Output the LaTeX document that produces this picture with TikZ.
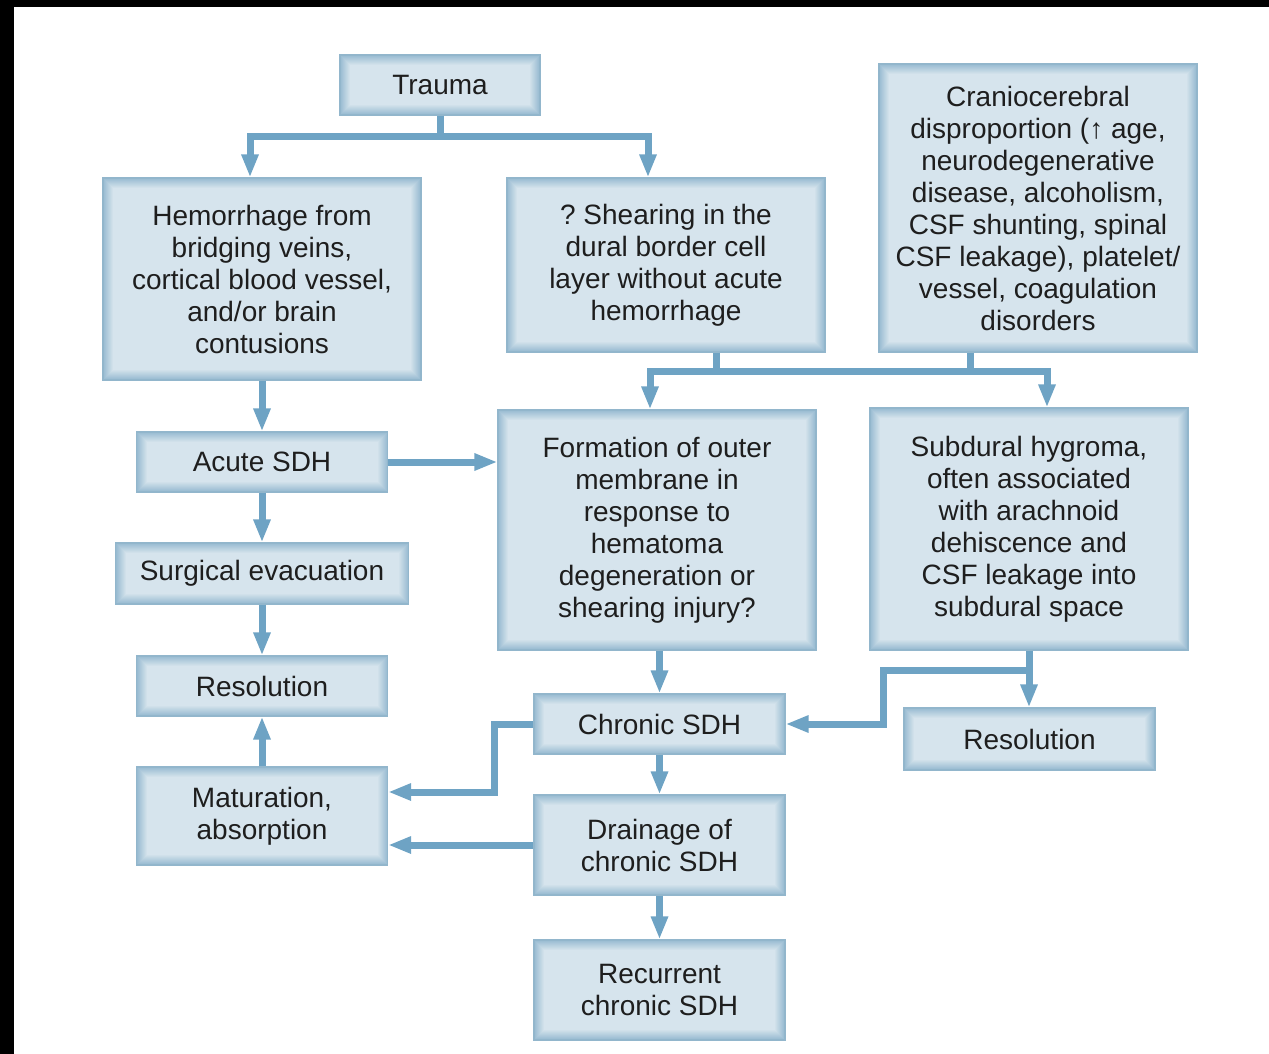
\documentclass[tikz,border=0pt]{standalone}
\usepackage{fontspec}
\setmainfont{Liberation Sans}
\usetikzlibrary{arrows.meta}

\definecolor{boxedge}{RGB}{152,187,209}
\definecolor{boxcore}{RGB}{214,228,237}
\definecolor{boxline}{RGB}{146,182,204}
\definecolor{boxtext}{RGB}{30,30,30}
\definecolor{linkblue}{RGB}{110,163,196}

\tikzset{
  flowbox/.style={draw=boxline, line width=0.6pt, fill=boxedge, inner sep=0pt,
    align=center, text=boxtext, font=\fontsize{14}{16}\selectfont,
    path picture={
      \foreach \k in {1,...,10}{
        \pgfmathsetmacro\mixp{\k*10}
        \fill[boxcore!\mixp!boxedge]
          ([shift={(\k*0.5pt,\k*0.5pt)}]path picture bounding box.south west) rectangle
          ([shift={(-\k*0.5pt,-\k*0.5pt)}]path picture bounding box.north east);
      }
    }},
  link/.style={draw=linkblue, line width=3.5pt, line join=miter},
  tip/.style={-{Triangle[length=11.5pt,width=8pt]}},
}

\begin{document}
\begin{tikzpicture}[x=0.5pt,y=0.5pt,yscale=-1]
\useasboundingbox (0,0) rectangle (1269,1054);

%Shape: black frame bands
\fill[black] (0,0) rectangle (1269,7);
\fill[black] (0,0) rectangle (14,1054);

% Text Node
\node[flowbox, minimum width=100pt, minimum height=30pt] (trauma) at (440,85) {Trauma};
% Text Node
\node[flowbox, minimum width=159pt, minimum height=101pt] (hemo) at (262,279)
  {Hemorrhage from\\bridging veins,\\cortical blood vessel,\\and/or brain\\contusions};
% Text Node
\node[flowbox, minimum width=159pt, minimum height=87pt] (shear) at (666,265)
  {?\ Shearing in the\\dural border cell\\layer without acute\\hemorrhage};
% Text Node
\node[flowbox, minimum width=159pt, minimum height=144pt] (cranio) at (1038,208)
  {Craniocerebral\\disproportion (↑ age,\\neurodegenerative\\disease, alcoholism,\\CSF shunting, spinal\\CSF leakage), platelet/\\vessel, coagulation\\disorders};
% Text Node
\node[flowbox, minimum width=125.5pt, minimum height=30pt] (acute) at (262,462) {Acute SDH};
% Text Node
\node[flowbox, minimum width=159pt, minimum height=120pt] (form) at (657,530)
  {Formation of outer\\membrane in\\response to\\hematoma\\degeneration or\\shearing injury?};
% Text Node
\node[flowbox, minimum width=159pt, minimum height=121pt] (hygro) at (1029,529)
  {Subdural hygroma,\\often associated\\with arachnoid\\dehiscence and\\CSF leakage into\\subdural space};
% Text Node
\node[flowbox, minimum width=146.5pt, minimum height=30.5pt] (surg) at (262,573.5) {Surgical evacuation};
% Text Node
\node[flowbox, minimum width=125.5pt, minimum height=30pt] (resol) at (262,686) {Resolution};
% Text Node
\node[flowbox, minimum width=125.5pt, minimum height=30pt] (chronic) at (659.5,724) {Chronic SDH};
% Text Node
\node[flowbox, minimum width=125.5pt, minimum height=31pt] (hresol) at (1029.5,739) {Resolution};
% Text Node
\node[flowbox, minimum width=125.5pt, minimum height=49pt] (matur) at (262,816) {Maturation,\\absorption};
% Text Node
\node[flowbox, minimum width=125.5pt, minimum height=50pt] (drain) at (659.5,845) {Drainage of\\chronic SDH};
% Text Node
\node[flowbox, minimum width=125.5pt, minimum height=50pt] (recur) at (659.5,990) {Recurrent\\chronic SDH};

%Connector: branch coordinates
\coordinate (tleft) at (250,137);
\coordinate (tright) at (648,137);
\coordinate (mleft) at (650,371);
\coordinate (mright) at (1047,371);
\coordinate (cbend) at (494,792);
\coordinate (hbend) at (883,670);

%Connector: trauma split
\draw[link] (trauma.south) -- (trauma.south |- tleft);
\draw[link,{Triangle[length=11.5pt,width=8pt]}-{Triangle[length=11.5pt,width=8pt]}]
  (tleft |- hemo.north) -- (tleft) -- (tright) -- (tright |- shear.north);
%Connector: shearing and craniocerebral join
\draw[link] ([xshift=25pt]shear.south) -- ([xshift=25pt]shear.south |- mleft);
\draw[link] ([xshift=-34pt]cranio.south) -- ([xshift=-34pt]cranio.south |- mleft);
\draw[link,{Triangle[length=11.5pt,width=8pt]}-{Triangle[length=11.5pt,width=8pt]}]
  (mleft |- form.north) -- (mleft) -- (mright) -- (mright |- hygro.north);
%Connector: left column
\draw[link,tip] (hemo) -- (acute);
\draw[link,tip] (acute) -- (surg);
\draw[link,tip] (surg) -- (resol);
\draw[link,tip] (matur) -- (resol);
\draw[link,tip] (acute.east) -- (acute.east -| form.west);
%Connector: middle column
\draw[link,tip] (form.south -| chronic) -- (chronic);
\draw[link,tip] (chronic) -- (drain);
\draw[link,tip] (drain) -- (recur);
\draw[link,tip] (chronic.west) -| (cbend) -- (cbend -| matur.east);
\draw[link,tip] (drain.west) -- (drain.west -| matur.east);
%Connector: hygroma outlets
\draw[link,tip] (hygro.south) -- (hygro.south |- hresol.north);
\draw[link,tip] (hygro.south |- hbend) -- (hbend) |- (chronic.east);
\end{tikzpicture}
\end{document}
